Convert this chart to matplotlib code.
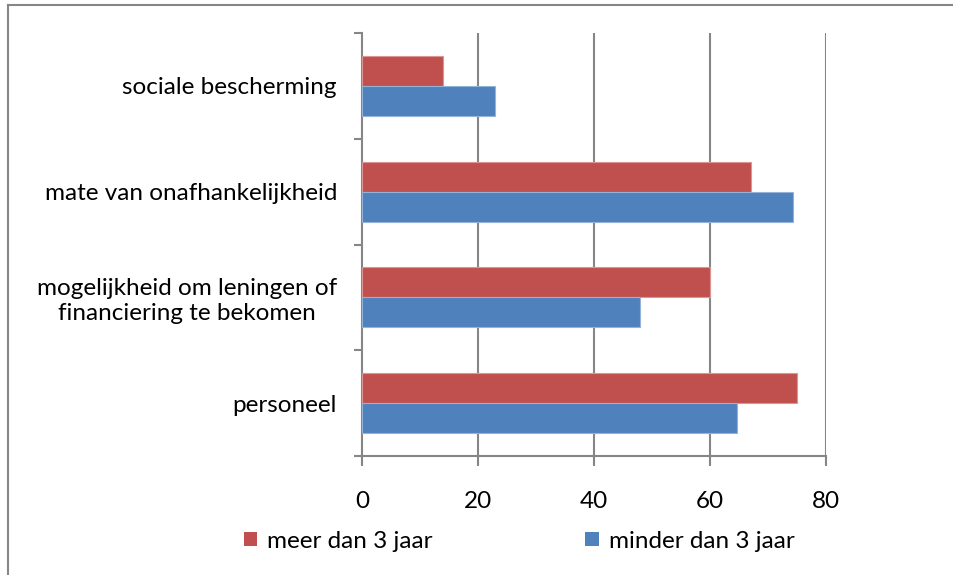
import matplotlib
matplotlib.use("Agg")
import matplotlib.pyplot as plt
from matplotlib.patches import Patch
from matplotlib.lines import Line2D
import numpy as np

# data, bottom to top as in the chart
categories = ["personeel",
              "mogelijkheid om leningen of\nfinanciering te bekomen",
              "mate van onafhankelijkheid",
              "sociale bescherming"]
meer_dan_3 = [75, 60, 67, 14]
minder_dan_3 = [64.7, 48, 74.3, 23]
series_names = ["meer dan 3 jaar", "minder dan 3 jaar"]
x_ticks = [0, 20, 40, 60, 80]

RED = "#C0504D"
BLUE = "#4F81BD"
GRAY = "#868686"
FS = 17.5

plt.rcParams["font.family"] = ["Lato", "DejaVu Sans"]

fig = plt.figure(figsize=(9.54, 5.75), dpi=100)
ax = fig.add_axes([362 / 954, 1 - 456 / 575, 464 / 954, 423 / 575])

y = np.arange(len(categories))
h = 0.283
ax.barh(y + h / 2, meer_dan_3, height=h, color=RED, edgecolor="#D99694", linewidth=0.8, zorder=3)
ax.barh(y - h / 2, minder_dan_3, height=h, color=BLUE, edgecolor="#95B3D7", linewidth=0.8, zorder=3)

ax.set_xlim(0, 80)
ax.set_ylim(-0.5, len(categories) - 0.5)

# vertical gridlines
for v in x_ticks[1:]:
    ax.axvline(v, color=GRAY, lw=1.5, zorder=1)

for s in ["top", "right"]:
    ax.spines[s].set_visible(False)
for s in ["left", "bottom"]:
    ax.spines[s].set_color(GRAY)
    ax.spines[s].set_linewidth(1.5)

ax.set_xticks(x_ticks)
ax.set_xticklabels([str(t) for t in x_ticks])
ax.tick_params(axis="x", length=7, width=1.5, color=GRAY, pad=18, labelsize=FS, direction="out")

# category boundaries as major ticks, labels on minor ticks
ax.set_yticks(np.arange(-0.5, len(categories), 1.0))
ax.set_yticklabels([])
ax.tick_params(axis="y", which="major", length=6, width=1.5, color=GRAY, direction="out")
ax.set_yticks(y, minor=True)
ax.set_yticklabels(categories, minor=True, ha="right", multialignment="center")
ax.tick_params(axis="y", which="minor", length=0, pad=18, labelsize=FS)

# legend
handles = [Patch(facecolor=RED, edgecolor="none"), Patch(facecolor=BLUE, edgecolor="none")]
fig.legend(handles, series_names, loc="center", bbox_to_anchor=(519 / 954, 1 - 541 / 575),
           ncol=2, frameon=False, fontsize=FS, handlelength=0.55, handleheight=0.55,
           handletextpad=0.4, columnspacing=6.3)

# outer chart border (top and left visible)
fig.add_artist(Line2D([8 / 954, 8 / 954], [0, 1 - 5 / 575], transform=fig.transFigure,
                      color=GRAY, lw=1.5))
fig.add_artist(Line2D([8 / 954, 1], [1 - 5 / 575, 1 - 5 / 575], transform=fig.transFigure,
                      color=GRAY, lw=1.5))

fig.savefig("out.png", dpi=100)
